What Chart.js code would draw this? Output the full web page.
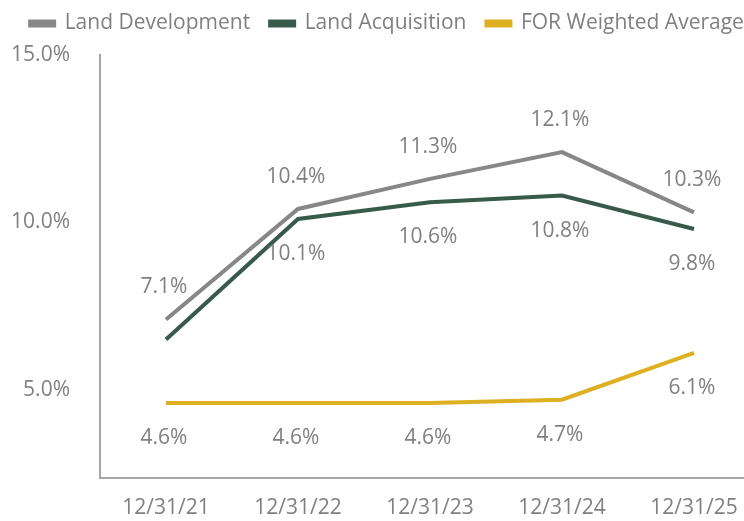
<!DOCTYPE html>
<html>
<head>
<meta charset="utf-8">
<script src="https://cdn.jsdelivr.net/npm/chart.js@4/dist/chart.umd.min.js"></script>
<style>
	html, body { margin: 0; padding: 0; overflow: hidden; background: #fff; }
	#wrap { width: 764px; height: 521px; }
</style>
</head>
<body>
<div id="wrap"><canvas id="chart" width="764" height="521"></canvas></div>
<script>
'use strict';

var categories = ['12/31/21', '12/31/22', '12/31/23', '12/31/24', '12/31/25'];
var landDevelopment = [7.1, 10.4, 11.3, 12.1, 10.3];
var landAcquisition = [6.5, 10.1, 10.6, 10.8, 9.8];
var forWeighted = [4.6, 4.6, 4.6, 4.7, 6.1];
var yTicks = [5, 10, 15];

var TEXT = '#808080';
var FONT = '"Open Sans", sans-serif';
var SIZE = 21;

// draws the value labels above or below each point
var valueLabels = {
	id: 'valueLabels',
	afterDatasetsDraw: function(chart) {
		var ctx = chart.ctx;
		ctx.save();
		ctx.font = SIZE + 'px ' + FONT;
		ctx.fillStyle = TEXT;
		ctx.textAlign = 'center';
		ctx.textBaseline = 'middle';
		chart.data.datasets.forEach(function(ds, i) {
			var meta = chart.getDatasetMeta(i);
			var skip = ds.skipLabels || [];
			meta.data.forEach(function(pt, j) {
				if (skip.indexOf(j) !== -1) {
					return;
				}
				var dy = ds.labelAbove ? -32 : 35;
				ctx.fillText(ds.data[j].toFixed(1) + '%', pt.x - 2, pt.y + dy);
			});
		});
		ctx.restore();
	}
};

// fixed legend height so the plot starts where the original does,
// and nudge the legend a bit to the right and up
var legendBox = {
	id: 'legendBox',
	beforeLayout: function(chart) {
		var legend = chart.legend;
		if (legend && !legend.$patched) {
			var fit = legend.fit;
			legend.fit = function() {
				fit.call(this);
				this.height = 55;
			};
			legend.$patched = true;
		}
	},
	afterLayout: function(chart) {
		var legend = chart.legend;
		if (legend) {
			legend.left += 7;
			legend.right += 7;
			legend.top -= 7;
			legend.bottom -= 7;
		}
	}
};

var chart = new Chart(document.getElementById('chart').getContext('2d'), {
	type: 'line',
	data: {
		labels: categories,
		datasets: [{
			label: 'Land Development',
			data: landDevelopment,
			borderColor: '#878787',
			backgroundColor: '#878787',
			labelAbove: true
		}, {
			label: 'Land Acquisition',
			data: landAcquisition,
			borderColor: '#375a4a',
			backgroundColor: '#375a4a',
			skipLabels: [0]
		}, {
			label: 'FOR Weighted Average',
			data: forWeighted,
			borderColor: '#dcb020',
			backgroundColor: '#dcb020'
		}]
	},
	options: {
		responsive: false,
		animation: false,
		layout: {padding: {top: 0, right: 4, left: 0, bottom: 0}},
		elements: {
			line: {borderWidth: 4, tension: 0},
			point: {radius: 0}
		},
		plugins: {
			tooltip: {enabled: false},
			legend: {
				position: 'top',
				labels: {
					boxWidth: 24,
					boxHeight: 4,
					padding: 20,
					color: TEXT,
					font: {family: FONT, size: SIZE}
				}
			}
		},
		scales: {
			x: {
				offset: true,
				grid: {display: false, drawTicks: false},
				border: {display: true, color: '#a6a6a6', width: 2},
				ticks: {color: TEXT, font: {family: FONT, size: SIZE}, padding: 17, maxRotation: 0},
				afterFit: function(scale) { scale.height = 40; }
			},
			y: {
				min: 2.35,
				max: 15,
				grid: {display: false, drawTicks: false},
				border: {display: true, color: '#a6a6a6', width: 2},
				afterBuildTicks: function(scale) {
					scale.ticks = yTicks.map(function(v) { return {value: v}; });
				},
				ticks: {
					color: TEXT,
					font: {family: FONT, size: SIZE},
					padding: 30,
					callback: function(v) { return v.toFixed(1) + '%'; }
				},
				afterFit: function(scale) { scale.width = 100; }
			}
		}
	},
	plugins: [valueLabels, legendBox]
});
</script>
</body>
</html>
